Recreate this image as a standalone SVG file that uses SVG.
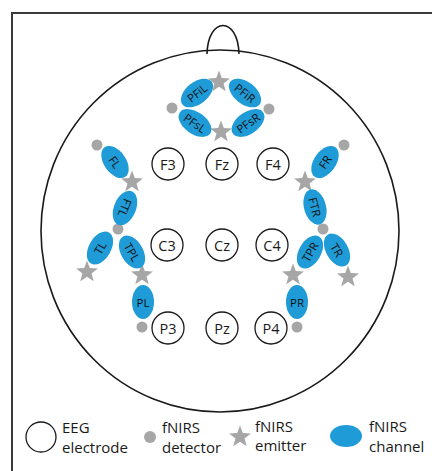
<svg xmlns="http://www.w3.org/2000/svg" width="432" height="471" viewBox="0 0 432 471">
<style>
.frame{fill:none;stroke:#3a3a3a;stroke-width:2}
.head{fill:none;stroke:#1a1a1a;stroke-width:1.6}
.el{fill:#fff;stroke:#1a1a1a;stroke-width:1.3}
.elt{font-family:"Open Sans","Liberation Sans",sans-serif;font-size:14.5px;fill:#1a1a1a;text-anchor:middle;dominant-baseline:central}
.ch{fill:#1F9BD7}
.cht{font-family:"Open Sans","Liberation Sans",sans-serif;font-size:11.5px;fill:#111;text-anchor:middle;dominant-baseline:central}
.det{fill:#A6A6A6}
.emi{fill:#A6A6A6}
.leg{font-family:"Open Sans","Liberation Sans",sans-serif;font-size:15px;fill:#1a1a1a}
</style>
<defs>
<path id="star" d="M0,-11.5 L2.8,-3.9 L10.9,-3.55 L4.55,1.48 L6.76,9.3 L0,4.8 L-6.76,9.3 L-4.55,1.48 L-10.9,-3.55 L-2.8,-3.9 Z"/>
</defs>
<rect width="432" height="471" fill="#fff"/>
<path class="frame" d="M12,471 V13 H432"/>
<g id="head">
<path class="head" d="M207,54 C208,16 238,16 239,54"/>
<ellipse class="head" cx="220" cy="231" rx="179" ry="181"/>
</g>
<g id="connectors"></g>
<g id="electrodes">
<g id="F3"><circle class="el" cx="168" cy="164" r="16"/><text class="elt" x="168" y="164">F3</text></g>
<g id="Fz"><circle class="el" cx="222" cy="164" r="16"/><text class="elt" x="222" y="164">Fz</text></g>
<g id="F4"><circle class="el" cx="273" cy="164" r="16"/><text class="elt" x="273" y="164">F4</text></g>
<g id="C3"><circle class="el" cx="167" cy="245" r="16"/><text class="elt" x="167" y="245">C3</text></g>
<g id="Cz"><circle class="el" cx="222" cy="245" r="16"/><text class="elt" x="222" y="245">Cz</text></g>
<g id="C4"><circle class="el" cx="272" cy="245" r="16"/><text class="elt" x="272" y="245">C4</text></g>
<g id="P3"><circle class="el" cx="168" cy="328" r="16"/><text class="elt" x="168" y="328">P3</text></g>
<g id="Pz"><circle class="el" cx="222" cy="328" r="16"/><text class="elt" x="222" y="328">Pz</text></g>
<g id="P4"><circle class="el" cx="271" cy="328" r="16"/><text class="elt" x="271" y="328">P4</text></g>
</g>
<g id="detectors">
<circle class="det" cx="172" cy="108" r="5.5"/>
<circle class="det" cx="269" cy="109" r="5.5"/>
<circle class="det" cx="97" cy="145" r="5.5"/>
<circle class="det" cx="118" cy="229" r="5.5"/>
<circle class="det" cx="142" cy="327" r="5.5"/>
<circle class="det" cx="344" cy="145" r="5.5"/>
<circle class="det" cx="323" cy="229" r="5.5"/>
<circle class="det" cx="297" cy="327" r="5.5"/>
</g>
<g id="emitters">
<use href="#star" class="emi" x="219" y="82"/>
<use href="#star" class="emi" x="221" y="132"/>
<use href="#star" class="emi" x="132" y="182"/>
<use href="#star" class="emi" x="87" y="272"/>
<use href="#star" class="emi" x="142" y="275"/>
<use href="#star" class="emi" x="305" y="182"/>
<use href="#star" class="emi" x="293" y="275"/>
<use href="#star" class="emi" x="348" y="277"/>
</g>
<g id="channels">
<g id="PFiL" transform="translate(197,93) rotate(-38)"><ellipse class="ch" rx="18.5" ry="11"/><text class="cht">PFiL</text></g>
<g id="PFiR" transform="translate(245,93) rotate(38)"><ellipse class="ch" rx="18.5" ry="11"/><text class="cht">PFiR</text></g>
<g id="PFsL" transform="translate(195,123) rotate(35)"><ellipse class="ch" rx="18.5" ry="11"/><text class="cht">PFsL</text></g>
<g id="PFsR" transform="translate(248,123) rotate(-35)"><ellipse class="ch" rx="18.5" ry="11"/><text class="cht">PFsR</text></g>
<g id="FL" transform="translate(115,162) rotate(55)"><ellipse class="ch" rx="18" ry="11"/><text class="cht">FL</text></g>
<g id="FTL" transform="translate(125,208) rotate(112)"><ellipse class="ch" rx="18" ry="11"/><text class="cht">FTL</text></g>
<g id="TL" transform="translate(100,248) rotate(-60)"><ellipse class="ch" rx="18" ry="11"/><text class="cht">TL</text></g>
<g id="TPL" transform="translate(132,252) rotate(60)"><ellipse class="ch" rx="18" ry="11"/><text class="cht">TPL</text></g>
<g id="PL" transform="translate(143,302)"><ellipse class="ch" rx="11" ry="17"/><text class="cht">PL</text></g>
<g id="FR" transform="translate(325,162) rotate(-55)"><ellipse class="ch" rx="18" ry="11"/><text class="cht">FR</text></g>
<g id="FTR" transform="translate(315,207) rotate(75)"><ellipse class="ch" rx="18" ry="11"/><text class="cht">FTR</text></g>
<g id="TPR" transform="translate(310,252) rotate(-60)"><ellipse class="ch" rx="18" ry="11"/><text class="cht">TPR</text></g>
<g id="TR" transform="translate(337,250) rotate(60)"><ellipse class="ch" rx="18" ry="11"/><text class="cht">TR</text></g>
<g id="PR" transform="translate(297,302)"><ellipse class="ch" rx="11" ry="17"/><text class="cht">PR</text></g>
</g>
<g id="legend">
<circle class="el" cx="41" cy="437" r="15"/>
<text class="leg" x="62" y="433">EEG</text>
<text class="leg" x="62" y="453">electrode</text>
<circle class="det" cx="150" cy="437" r="6"/>
<text class="leg" x="162" y="433">fNIRS</text>
<text class="leg" x="162" y="453">detector</text>
<use href="#star" class="emi" x="240" y="437"/>
<text class="leg" x="255" y="432">fNIRS</text>
<text class="leg" x="255" y="451">emitter</text>
<ellipse class="ch" cx="346" cy="436" rx="16" ry="11"/>
<text class="leg" x="369" y="432">fNIRS</text>
<text class="leg" x="369" y="452">channel</text>
</g>
</svg>
